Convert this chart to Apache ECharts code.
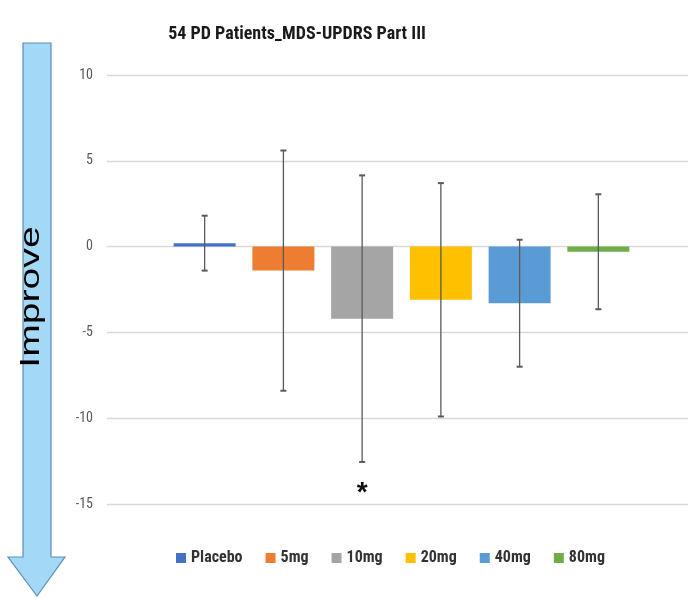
<!DOCTYPE html>
<html>
<head>
<meta charset="utf-8">
<script src="https://cdn.jsdelivr.net/npm/echarts@6/dist/echarts.min.js"></script>
<style>
  html, body { margin: 0; padding: 0; background: #fff; }
  #chart { width: 688px; height: 598px; }
</style>
</head>
<body>
<div id="chart"></div>
<script>
// Change in MDS-UPDRS Part III by dose group (mean ± SD)
const groups = ['Placebo', '5mg', '10mg', '20mg', '40mg', '80mg'];
const meanChange = [0.2, -1.4, -4.2, -3.1, -3.3, -0.3];
const sdChange = [1.6, 7.0, 8.35, 6.8, 3.7, 3.35];
const groupColors = ['#4472C4', '#ED7D31', '#A5A5A5', '#FFC000', '#5B9BD5', '#70AD47'];
const yTicks = { min: -15, max: 10, step: 5 };
// significance marker below the 10mg group
const sigMarks = [{ group: '10mg', value: -14.4, text: '*' }];

const narrow = '"Liberation Sans Narrow", "Roboto Condensed", "Noto Sans", sans-serif';
const BAR_W = 62;
const BAR_GAP = 0.27;
const pitch = BAR_W * (1 + BAR_GAP);
const offsetOf = i => (i - (groups.length - 1) / 2) * pitch;

const chart = echarts.init(document.getElementById('chart'));

const barSeries = groups.map((g, i) => ({
  name: g,
  type: 'bar',
  data: [meanChange[i]],
  barWidth: BAR_W,
  barGap: (BAR_GAP * 100) + '%',
  itemStyle: { color: groupColors[i] },
  z: 2
}));

const errorSeries = {
  type: 'custom',
  name: 'sd',
  data: groups.map((g, i) => [i, meanChange[i] - sdChange[i], meanChange[i] + sdChange[i]]),
  encode: { y: [1, 2] },
  z: 5,
  renderItem: function (params, api) {
    const i = api.value(0);
    const lo = api.coord([0, api.value(1)]);
    const hi = api.coord([0, api.value(2)]);
    const x = lo[0] + offsetOf(i);
    const cap = 3;
    const style = { stroke: '#5A5A5A', lineWidth: 1.3 };
    return {
      type: 'group',
      children: [
        { type: 'line', shape: { x1: x, y1: hi[1], x2: x, y2: lo[1] }, style },
        { type: 'line', shape: { x1: x - cap, y1: hi[1], x2: x + cap, y2: hi[1] }, style: { stroke: '#5A5A5A', lineWidth: 2 } },
        { type: 'line', shape: { x1: x - cap, y1: lo[1], x2: x + cap, y2: lo[1] }, style: { stroke: '#5A5A5A', lineWidth: 2 } }
      ]
    };
  }
};

const sigSeries = {
  type: 'custom',
  name: 'sig',
  data: sigMarks.map(m => [groups.indexOf(m.group), m.value, m.text]),
  encode: { y: 1 },
  z: 5,
  renderItem: function (params, api) {
    const i = api.value(0);
    const p = api.coord([0, api.value(1)]);
    return {
      type: 'text',
      style: {
        x: p[0] + offsetOf(i), y: p[1],
        text: sigMarks[params.dataIndex].text,
        fill: '#111', font: 'bold 28px "Liberation Sans", sans-serif',
        align: 'center', verticalAlign: 'middle'
      }
    };
  }
};

chart.setOption({
  animation: false,
  backgroundColor: '#ffffff',
  title: {
    text: '54 PD Patients_MDS-UPDRS Part III',
    left: 292,
    top: 20,
    textAlign: 'center',
    textStyle: { fontFamily: narrow, fontWeight: 'bold', fontSize: 18, color: '#1a1a1a' }
  },
  legend: {
    data: groups,
    left: 171,
    top: 545,
    icon: 'rect',
    itemWidth: 10,
    itemHeight: 10,
    itemGap: 23,
    textStyle: { fontFamily: narrow, fontWeight: 'bold', fontSize: 16, color: '#333' }
  },
  grid: { left: 107, width: 589, top: 75, bottom: 94, outerBoundsMode: 'none' },
  xAxis: {
    type: 'category',
    data: [''],
    axisLine: { show: true, onZero: true, lineStyle: { color: '#D9D9D9' } },
    axisTick: { show: false },
    axisLabel: { show: false }
  },
  yAxis: {
    type: 'value',
    min: yTicks.min,
    max: yTicks.max,
    interval: yTicks.step,
    axisLine: { show: false },
    axisTick: { show: false },
    splitLine: { lineStyle: { color: '#D9D9D9', width: 1.3 } },
    axisLabel: { color: '#595959', fontSize: 14, fontFamily: narrow, margin: 14 }
  },
  graphic: [
    {
      // downward arrow along the left margin
      type: 'polygon',
      shape: { points: [[23, 43], [51, 43], [51, 557], [65, 557], [37, 596], [8, 557], [23, 557]] },
      style: { fill: '#A3D9F7', stroke: '#5E8DB5', lineWidth: 1.2 },
      z: 10
    },
    {
      type: 'text',
      x: 32,
      y: 297,
      rotation: Math.PI / 2,
      scaleX: 1.45,
      style: {
        text: 'Improve',
        font: '27px "Liberation Sans", Arial, sans-serif',
        fill: '#000',
        align: 'center',
        verticalAlign: 'middle'
      },
      z: 11
    }
  ],
  series: [...barSeries, errorSeries, sigSeries]
});
</script>
</body>
</html>
